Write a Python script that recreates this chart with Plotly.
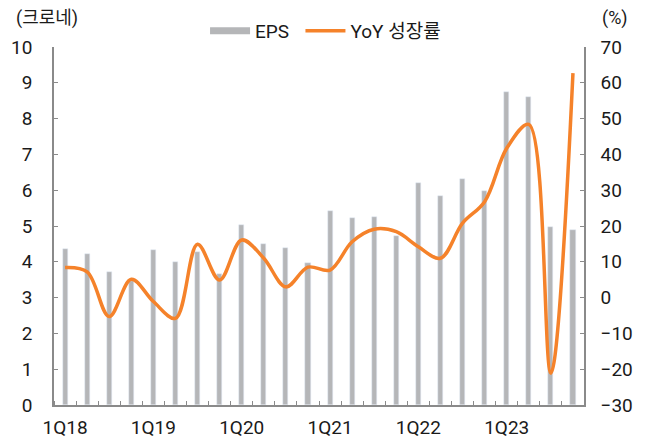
import plotly.graph_objects as go

quarters = [f"{q}Q{y}" for y in range(18, 24) for q in range(1, 5)]
eps = [4.37, 4.23, 3.71, 3.45, 4.33, 4.00, 4.26, 3.66, 5.02, 4.50, 4.39, 3.97,
       5.42, 5.23, 5.25, 4.73, 6.19, 5.84, 6.31, 5.99, 8.75, 8.60, 4.98, 4.89]
yoy = [8.4, 7.2, -5.3, 5.1, -1.1, -5.8, 14.9, 4.9, 16.1, 11.0, 3.0, 8.5,
       7.7, 15.6, 19.1, 18.4, 14.2, 11.0, 20.8, 26.8, 41.7, 48.4, -21.1, 62.7]
left_ticks = list(range(0, 11))
right_ticks = list(range(-30, 80, 10))

idx = list(range(len(quarters)))
label_idx = [i for i, q in enumerate(quarters) if q.startswith("1Q")]
label_txt = [quarters[i] for i in label_idx]

GRAY = "#b5b6b8"
ORANGE = "#f5822a"
AXIS = "#8a8a8a"
FONT = "Roboto, Noto Sans CJK KR, sans-serif"

fig = go.Figure()
fig.add_trace(go.Bar(x=idx, y=eps, width=0.23, marker_color=GRAY, name="EPS",
                     showlegend=False, customdata=quarters,
                     hovertemplate="%{customdata}: %{y}<extra></extra>"))
fig.add_trace(go.Scatter(x=[None], y=[None], mode="lines", name="EPS",
                         line=dict(color=GRAY, width=7), legend="legend"))
fig.add_trace(go.Scatter(x=idx, y=yoy, mode="lines", name="YoY 성장률", yaxis="y2",
                         line=dict(color=ORANGE, width=3.5, shape="spline", smoothing=1.0),
                         customdata=quarters, legend="legend2", showlegend=True,
                         hovertemplate="%{customdata}: %{y}%<extra></extra>"))

leg_common = dict(orientation="h", y=1.045, xanchor="left", yanchor="middle",
                  bgcolor="rgba(0,0,0,0)", font=dict(size=19), itemwidth=40)

fig.update_layout(
    width=648, height=448,
    margin=dict(l=54, r=64, t=47, b=43),
    plot_bgcolor="white", paper_bgcolor="white",
    font=dict(family=FONT, size=19, color="#1a1a1a"),
    bargap=0,
    showlegend=True,
    xaxis=dict(range=[-0.5, len(quarters) - 0.5], tickmode="array",
               tickvals=label_idx, ticktext=label_txt, ticks="", automargin=False,
               showline=True, linecolor=AXIS, linewidth=1.5, showgrid=False,
               zeroline=False, ticklabelstandoff=4,
               minor=dict(ticks="inside", ticklen=4, tickcolor=AXIS, tickwidth=1,
                          tick0=-0.5, dtick=1, showgrid=False)),
    yaxis=dict(range=[0, 10], tickvals=left_ticks, ticks="inside", ticklen=4,
               tickcolor=AXIS, showline=True, linecolor=AXIS, linewidth=1.5,
               showgrid=False, zeroline=False, ticklabelstandoff=16, automargin=False),
    yaxis2=dict(range=[-30, 70], tickvals=right_ticks, overlaying="y", side="right",
                ticks="inside", ticklen=4, tickcolor=AXIS, showline=True,
                linecolor=AXIS, linewidth=1.5, showgrid=False, zeroline=False,
                ticklabelstandoff=11, automargin=False),
    legend=dict(x=0.285, **leg_common),
    legend2=dict(x=0.465, **leg_common),
    annotations=[
        dict(text="(크로네)", xref="paper", yref="paper", x=-0.075, y=1.08,
             xanchor="left", yanchor="middle", showarrow=False, font=dict(size=18)),
        dict(text="(%)", xref="paper", yref="paper", x=1.03, y=1.08,
             xanchor="left", yanchor="middle", showarrow=False, font=dict(size=18)),
    ],
)

fig.write_html("out.html", config={"displayModeBar": False},
               post_script="document.body.style.margin='0';document.body.style.padding='0';")
